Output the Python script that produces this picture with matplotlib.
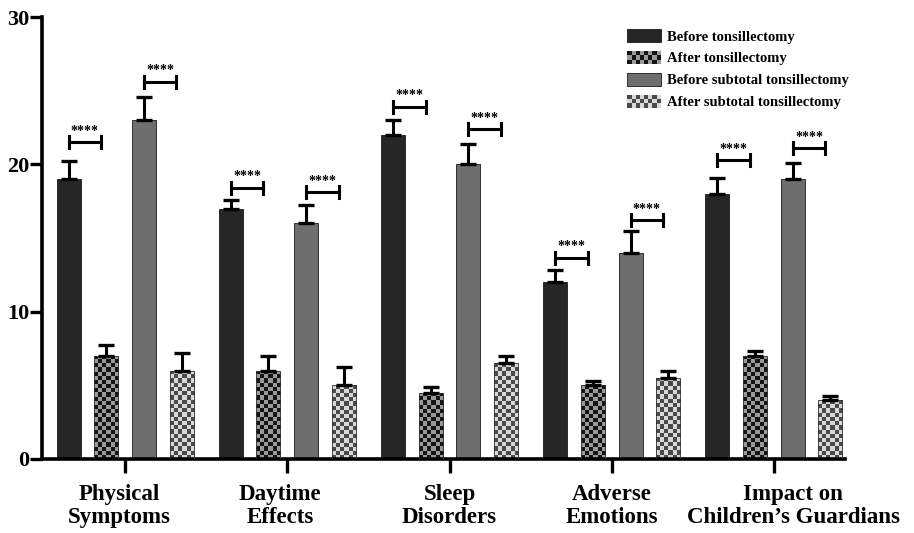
import numpy as np
import matplotlib
matplotlib.use('Agg')
import matplotlib.pyplot as plt
import matplotlib.transforms as mtransforms
from matplotlib.colors import ListedColormap
from matplotlib.patches import Rectangle
from matplotlib.legend_handler import HandlerBase

plt.rcParams['font.family'] = 'Liberation Serif'
plt.rcParams['font.weight'] = 'bold'

categories = ['Physical\nSymptoms', 'Daytime\nEffects', 'Sleep\nDisorders',
              'Adverse\nEmotions', 'Impact on\nChildren\u2019s Guardians']
series = ['Before tonsillectomy', 'After tonsillectomy',
          'Before subtotal tonsillectomy', 'After subtotal tonsillectomy']

before_t = [19, 17, 22, 12, 18]
after_t = [7, 6, 4.5, 5, 7]
before_sub = [23, 16, 20, 14, 19]
after_sub = [6, 5, 6.5, 5.5, 4]

err_before_t = [1.25, 0.6, 1.0, 0.8, 1.1]
err_after_t = [0.75, 1.0, 0.4, 0.3, 0.35]
err_before_sub = [1.6, 1.25, 1.4, 1.45, 1.1]
err_after_sub = [1.2, 1.25, 0.5, 0.5, 0.3]

# bracket heights (y of the significance bracket) for before_t and before_sub
sig_before_t = [21.5, 18.4, 23.9, 13.65, 20.3]
sig_before_sub = [25.6, 18.1, 22.4, 16.2, 21.1]

values = [before_t, after_t, before_sub, after_sub]
errors = [err_before_t, err_after_t, err_before_sub, err_after_sub]
solid_colors = ['#262626', None, '#6e6e6e', None]
checker_colors = [None, ('#151515', '#9a9a9a'), None, ('#4a4a4a', '#d8d8d8')]

fig = plt.figure(figsize=(9.14, 5.33), dpi=100)
ax = fig.add_axes([0.046, 0.139, 0.8785, 0.829])

x = np.arange(len(categories))
step = 0.232
width = 0.148
px_per_unit_y = 14.73
sq = 4.2  # checker square size in pixels

for i in range(4):
    pos = x + (i - 1.5) * step
    if solid_colors[i] is not None:
        bars = ax.bar(pos, values[i], width, color=solid_colors[i],
                      edgecolor='#1a1a1a', linewidth=0.6, zorder=2)
    else:
        bars = ax.bar(pos, values[i], width, color='none',
                      edgecolor='#333333', linewidth=0.6, zorder=3)
        cmap = ListedColormap(list(checker_colors[i]))
        for b, v in zip(bars, values[i]):
            rows = max(1, int(round(v * px_per_unit_y / sq)))
            cols = 6
            board = np.indices((rows, cols)).sum(axis=0) % 2
            im = ax.imshow(board, cmap=cmap, interpolation='nearest',
                           extent=[b.get_x(), b.get_x() + width, 0, v],
                           aspect='auto', origin='lower', zorder=2)
            im.set_clip_path(b)
    ax.errorbar(pos, values[i], yerr=[np.zeros(5), errors[i]], fmt='none',
                ecolor='black', elinewidth=2.2, capsize=6, capthick=2.4, zorder=4)

# significance brackets
for i, sig in ((0, sig_before_t), (2, sig_before_sub)):
    pos = x + (i - 1.5) * step
    for p, s in zip(pos, sig):
        x0, x1 = p, p + 0.2
        ax.plot([x0, x1], [s, s], color='black', lw=2.2, zorder=5)
        ax.plot([x0, x0], [s - 0.4, s + 0.4], color='black', lw=2.2, zorder=5)
        ax.plot([x1, x1], [s - 0.4, s + 0.4], color='black', lw=2.2, zorder=5)
        ax.text((x0 + x1) / 2, s + 0.3, '****', ha='center', va='bottom',
                fontsize=10, fontweight='bold', zorder=5)

ax.set_xlim(-0.512, 4.438)
ax.set_ylim(0, 30)
ax.set_yticks([0, 10, 20, 30])
ax.set_xticks(x)
ax.set_xticklabels(categories, fontsize=16.5, fontweight='bold', linespacing=1.15)
ax.tick_params(axis='y', labelsize=16, width=2.4, length=9, pad=0)
ax.tick_params(axis='x', width=2.4, length=10, pad=8)
for lbl in ax.get_yticklabels():
    lbl.set_fontweight('bold')
# nudge labels like the original layout
shifts = [-6, -7, 0, 0, 19]
for lbl, dx in zip(ax.get_xticklabels(), shifts):
    lbl.set_transform(lbl.get_transform() +
                      mtransforms.ScaledTranslation(dx / 100, 0, fig.dpi_scale_trans))
for side in ('top', 'right'):
    ax.spines[side].set_visible(False)
for side in ('left', 'bottom'):
    ax.spines[side].set_linewidth(2.6)


class CheckerHandler(HandlerBase):
    def __init__(self, c1, c2):
        super().__init__()
        self.c1, self.c2 = c1, c2

    def create_artists(self, legend, orig_handle, xdescent, ydescent,
                       width, height, fontsize, trans):
        arts = []
        nc, nr = 8, 3
        w, h = width / nc, height / nr
        for r in range(nr):
            for c in range(nc):
                col = self.c1 if (r + c) % 2 == 0 else self.c2
                arts.append(Rectangle((-xdescent + c * w, -ydescent + r * h), w, h,
                                      facecolor=col, edgecolor='none',
                                      transform=trans))
        return arts


h0 = Rectangle((0, 0), 1, 1, facecolor=solid_colors[0], edgecolor='#1a1a1a', lw=0.6)
h1 = Rectangle((0, 0), 1, 1)
h2 = Rectangle((0, 0), 1, 1, facecolor=solid_colors[2], edgecolor='#1a1a1a', lw=0.6)
h3 = Rectangle((0, 0), 1, 1)
fig.legend([h0, h1, h2, h3], series, loc='upper left',
           bbox_to_anchor=(0.672, 0.97), frameon=False,
           prop={'family': 'Liberation Serif', 'weight': 'bold', 'size': 10.5},
           handlelength=2.3, handleheight=1.0, handletextpad=0.45,
           labelspacing=0.5,
           handler_map={h1: CheckerHandler(*checker_colors[1]),
                        h3: CheckerHandler(*checker_colors[3])})

fig.savefig('out.png', dpi=100)
